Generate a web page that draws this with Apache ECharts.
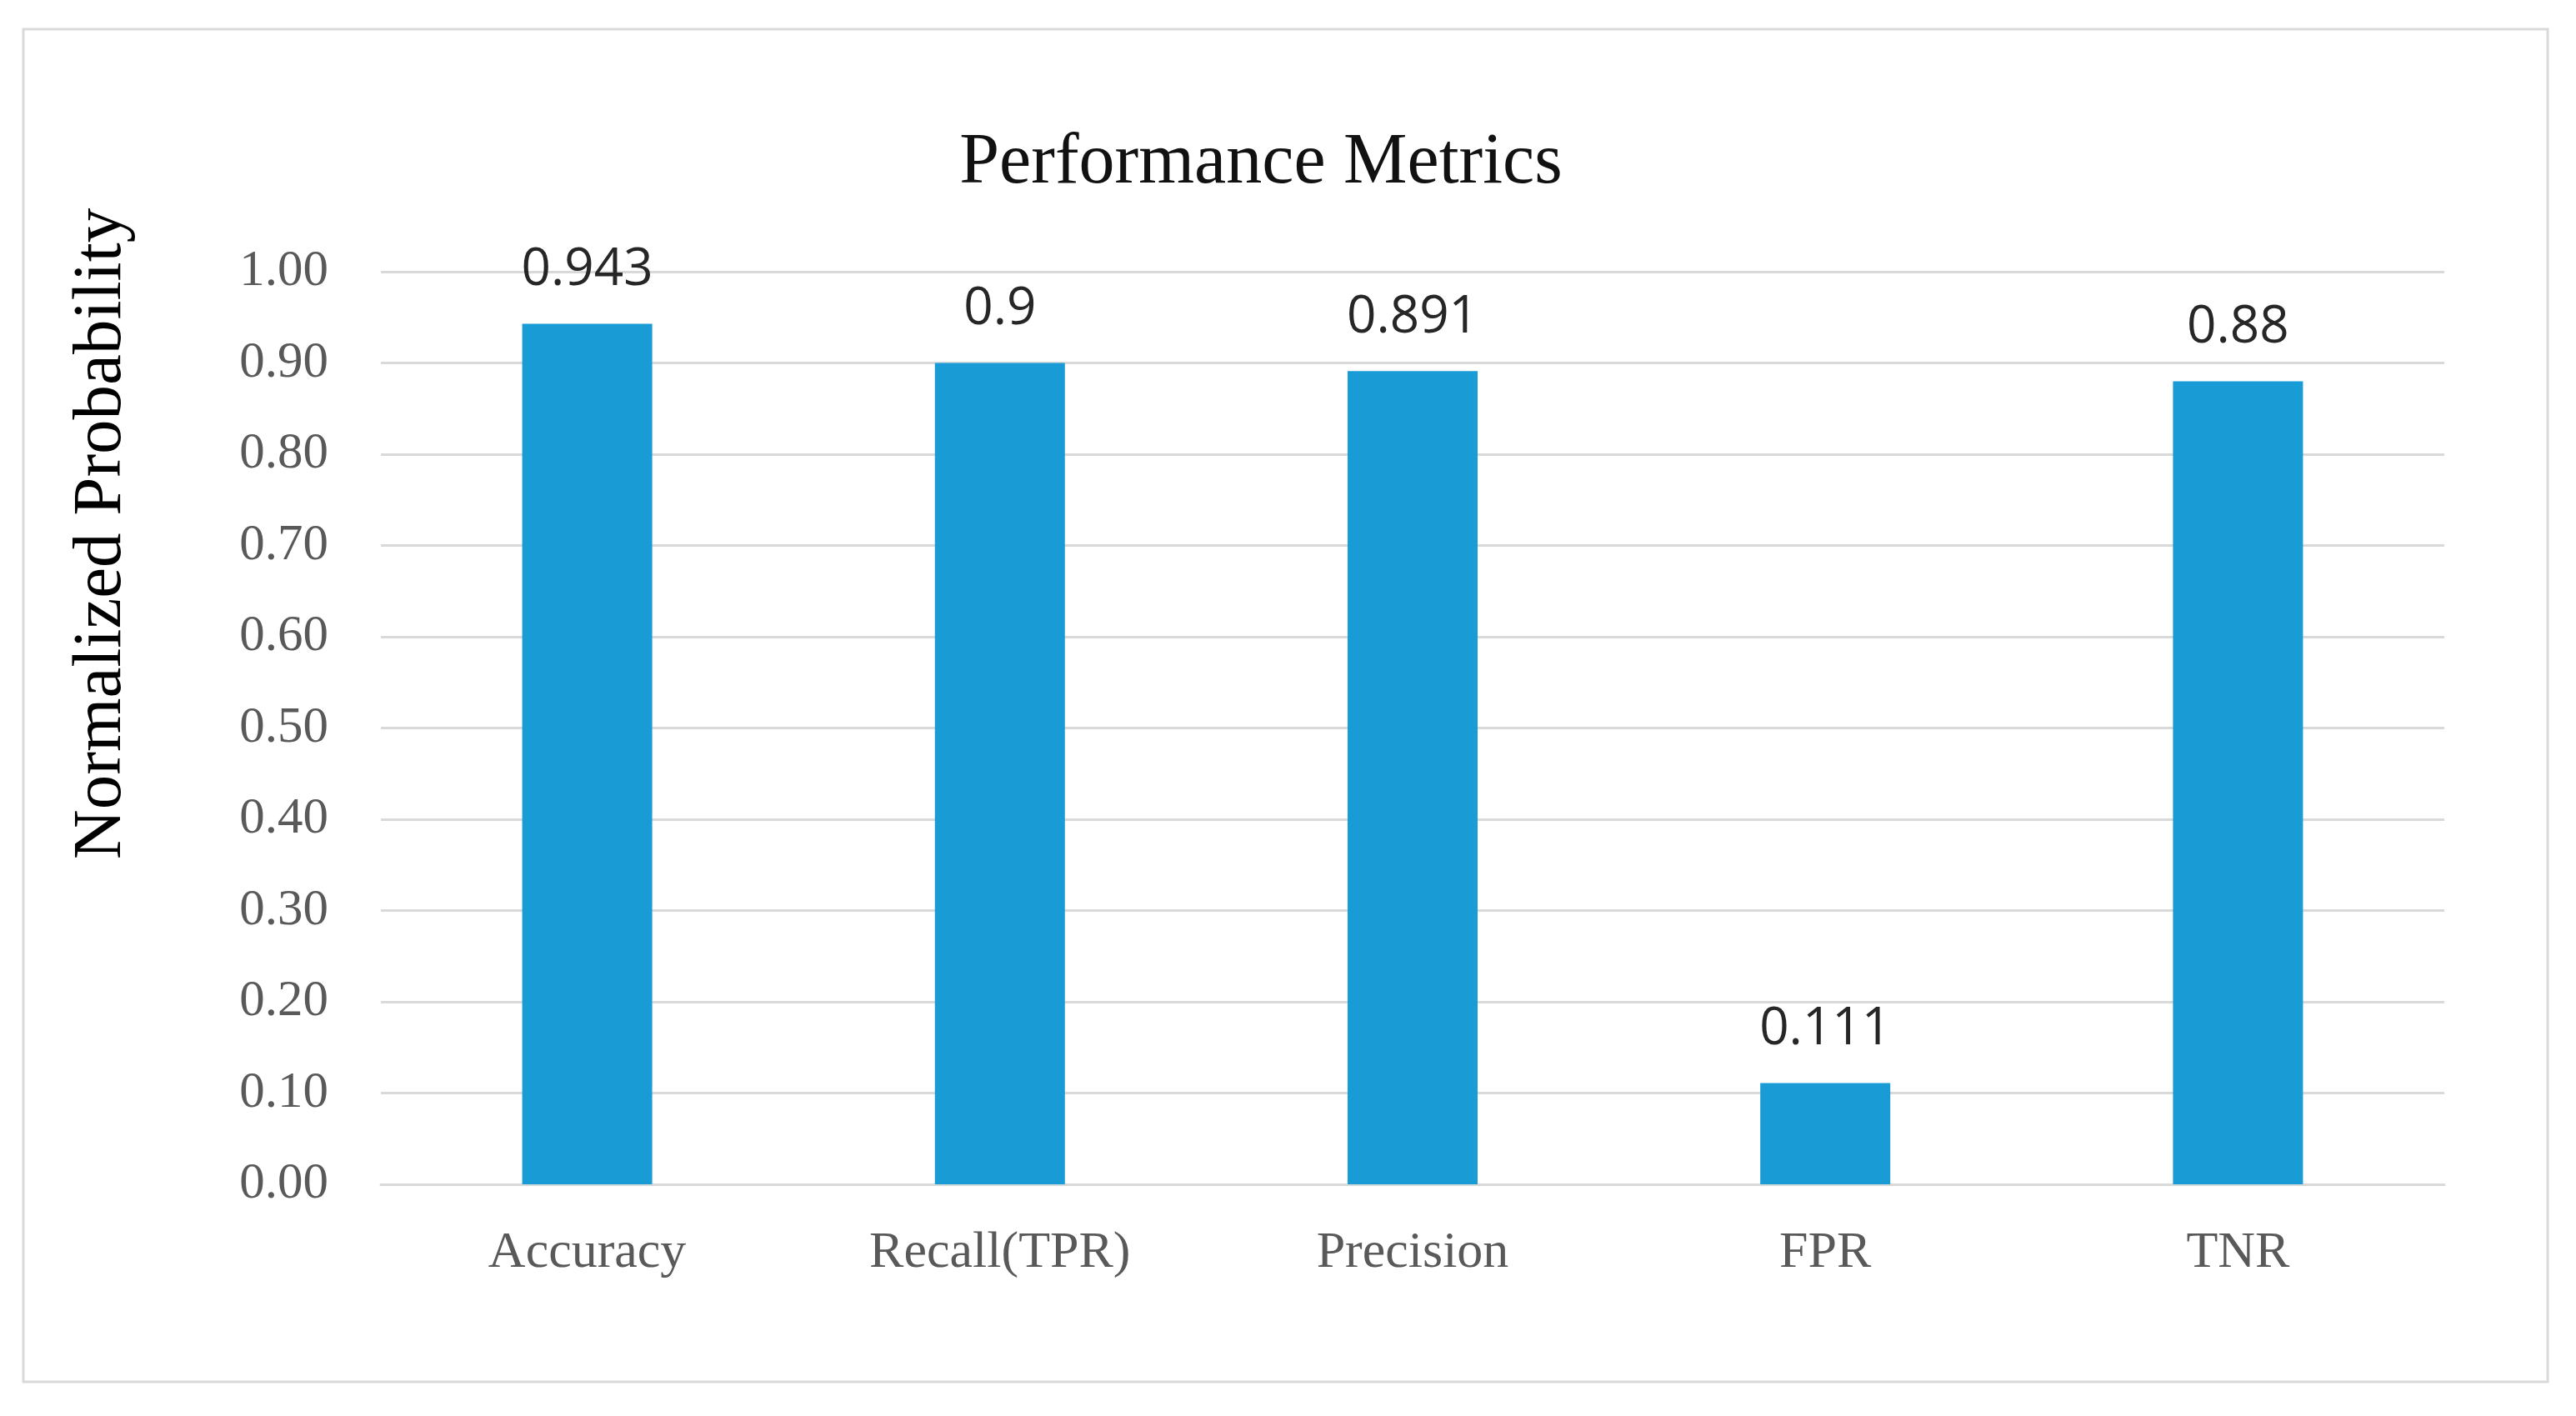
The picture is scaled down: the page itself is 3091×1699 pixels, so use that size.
<!DOCTYPE html>
<html>
<head>
<meta charset="utf-8">
<script src="https://cdn.jsdelivr.net/npm/echarts@6/dist/echarts.min.js"></script>
<style>
html,body{margin:0;padding:0;background:#fff;}
#main{width:3091px;height:1699px;}
</style>
</head>
<body>
<div id="main"></div>
<script>
const categories = ['Accuracy', 'Recall(TPR)', 'Precision', 'FPR', 'TNR'];
const values = [0.943, 0.9, 0.891, 0.111, 0.88];
const yTicks = [0, 0.1, 0.2, 0.3, 0.4, 0.5, 0.6, 0.7, 0.8, 0.9, 1.0];
const titleText = 'Performance Metrics';
const yName = 'Normalized Probability';

const chart = echarts.init(document.getElementById('main'), null, {renderer: 'canvas'});
const serif = '"Liberation Serif", "DejaVu Serif", serif';
chart.setOption({
  backgroundColor: '#ffffff',
  animation: false,
  title: {
    text: titleText,
    left: 1508,
    top: 148,
    textAlign: 'center',
    textStyle: {fontFamily: serif, fontSize: 86, fontWeight: 'normal', color: '#111'}
  },
  graphic: [{
    type: 'rect',
    shape: {x: 28, y: 35, width: 3029, height: 1623},
    style: {fill: 'none', stroke: '#d9d9d9', lineWidth: 3},
    silent: true
  }],
  grid: {left: 457, right: 158, top: 326, bottom: 278, containLabel: false},
  xAxis: {
    type: 'category',
    data: categories,
    axisLine: {show: true, lineStyle: {color: '#d9d9d9', width: 3}},
    axisTick: {show: false},
    axisLabel: {fontFamily: serif, fontSize: 62, color: '#595959', margin: 52}
  },
  yAxis: {
    type: 'value',
    min: 0,
    max: 1,
    interval: 0.1,
    name: yName,
    nameLocation: 'middle',
    nameRotate: 90,
    nameGap: 293,
    nameTextStyle: {fontFamily: serif, fontSize: 83, color: '#000', padding: [0, 0, 0, 466]},
    axisLine: {show: false},
    axisTick: {show: false},
    splitLine: {lineStyle: {color: '#d9d9d9', width: 3}},
    axisLabel: {
      fontFamily: serif, fontSize: 61, color: '#595959', margin: 63,
      padding: [6, 0, 0, 0],
      formatter: v => yTicks.includes(Math.round(v * 10) / 10) ? v.toFixed(2) : ''
    }
  },
  series: [{
    type: 'bar',
    data: values,
    barWidth: '31.5%',
    itemStyle: {color: '#199bd6'},
    label: {
      show: true,
      position: 'top',
      distance: 33,
      fontFamily: '"Open Sans", sans-serif',
      fontSize: 62,
      color: '#262626',
      formatter: p => String(p.value)
    }
  }]
});
</script>
</body>
</html>
